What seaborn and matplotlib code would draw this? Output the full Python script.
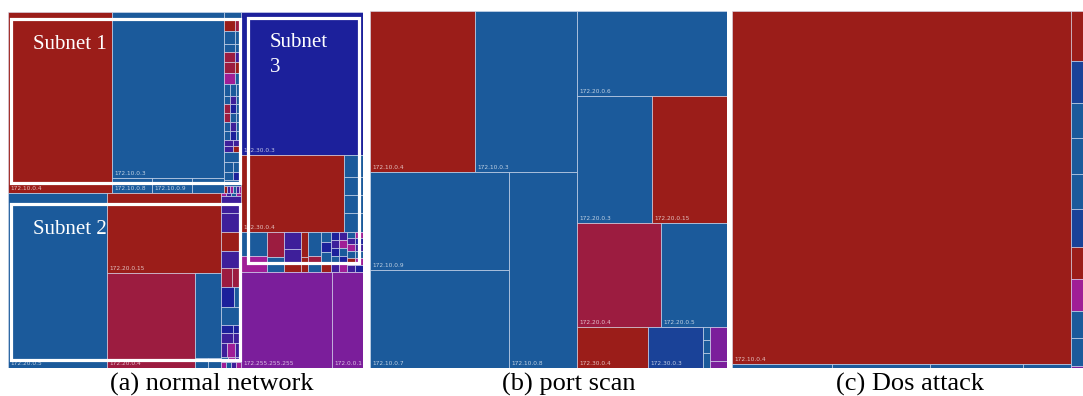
import matplotlib
matplotlib.use("Agg")
import matplotlib.pyplot as plt
from matplotlib.patches import Rectangle
import seaborn as sns

# ---------------------------------------------------------------------------
# Traffic volume per host (arbitrary units) and colour class of each host.
# Colour classes: r=red, b=blue, i=indigo, n=navy, c=crimson, p=purple,
#                 m=magenta, v=violet
# ---------------------------------------------------------------------------

# (a) normal network
A_HOSTS = ["172.10.0.4", "172.10.0.3", "172.10.0.8", "172.10.0.9",
           "172.20.0.5", "172.20.0.15", "172.20.0.4",
           "172.30.0.3", "172.30.0.4",
           "172.255.255.255", "172.0.0.1"]
A_TRAFFIC = [18824, 18592, 600, 600,
             17325, 9120, 8360,
             17446, 7931,
             8736, 2976]
A_CLASS = ["r", "b", "b", "b",
           "b", "r", "c",
           "i", "r",
           "p", "p"]

# unnamed hosts of subnet 172.10 (rows of small hosts)
A_S10_MINOR = [480]
A_S10_TAIL = [[102], [143, 78], [143, 78], [88, 48], [110, 60], [121, 66],
              [121, 66], [72, 72, 60], [48, 48, 40], [54, 54, 45],
              [54, 54, 45], [54, 54, 45], [54, 54, 45], [54, 48], [54, 48],
              [170], [90, 80], [72, 64], [102], [21, 21, 21, 21, 21, 14]]
A_S10_TAIL_CLASS = ["b", "rc", "bb", "bb", "cv", "cr", "mb", "bbb", "bvb",
                    "cib", "cbb", "bvb", "bib", "vv", "vr", "b", "bb", "bi",
                    "b", "rvmbvm"]

# unnamed hosts of subnet 172.20
A_S20_MINOR = [2210]
A_S20_MINOR_ROW = [130, 130]
A_S20_TAIL = [[15, 15, 15, 15], [140], [200], [380], [380], [340],
              [209, 171], [260, 140], [360], [96, 64], [120, 80],
              [84, 112, 84], [35, 35, 30], [30, 30, 30, 30]]
A_S20_TAIL_CLASS = ["mvbm", "v", "v", "v", "r", "v", "cc", "ib", "b", "ii",
                    "vv", "vmv", "bmv", "mbvm"]

# unnamed hosts of subnet 172.30
A_S30_SIDE = [418, 342, 342, 361]
A_S30_SIDE_CLASS = "bbbb"
A_S30_TAIL = [[624, 416], [425, 255], [289, 221, 170], [175, 105],
              [312, 104, 104], [100, 100, 100, 100], [64, 64, 64, 64, 64],
              [64, 64, 64, 64, 64], [48, 48, 56, 56, 56, 56],
              [48, 48, 56, 56, 56, 56]]
A_S30_TAIL_CLASS = ["bm", "cb", "vvr", "rr", "bcb", "bibr", "ivibv",
                    "vmbim", "bvmbrv", "mivbmi"]

# (b) port scan
B_HOSTS = ["172.10.0.4", "172.10.0.3", "172.10.0.9", "172.10.0.7",
           "172.10.0.8", "172.20.0.6", "172.20.0.3", "172.20.0.15",
           "172.20.0.4", "172.20.0.5", "172.30.0.4", "172.30.0.3"]
B_TRAFFIC = [16905, 16422, 13622, 13622,
             13328, 12750, 9525, 9525,
             8736, 6864, 2911, 2255]
B_CLASS = ["r", "b", "b", "b",
           "b", "b", "b", "r",
           "c", "b", "r", "n"]
B_S30_MINOR = [91, 91, 105]
B_S30_MINOR_CLASS = "bbb"
B_S30_OTHER = [578, 119]
B_S30_OTHER_CLASS = "pp"

# (c) DoS attack
C_HOSTS = ["172.10.0.4"]
C_TRAFFIC = [119667]
C_CLASS = ["r"]
C_S10_MINOR = [400, 392, 372, 192]
C_S10_MINOR_CLASS = "bbbb"
C_OTHER = [900, 756, 630, 648, 630, 684, 576, 576, 486, 504, 36]
C_OTHER_CLASS = "rnbbbnrmbbp"

CAPTIONS = ["(a) normal network", "(b) port scan", "(c) Dos attack"]

PALETTE = dict(zip("rbincpmv", sns.color_palette(
    ["#9b1d19", "#1b5a9b", "#1c209b", "#1a4298",
     "#9c1c40", "#7b1e9b", "#a01e96", "#3e1f9a"])))


# ---------------------------------------------------------------------------
# Tiny treemap engine: groups are sliced horizontally ("h") or vertically
# ("v") in proportion to the summed traffic of their children.
# ---------------------------------------------------------------------------
class Leaf:
    def __init__(self, label, value, cls):
        self.label, self.value, self.cls = label, value, cls

    def total(self):
        return self.value


class Group:
    def __init__(self, orient, children, name=None):
        self.orient, self.children, self.name = orient, children, name

    def total(self):
        return sum(c.total() for c in self.children)


def layout(node, x0, y0, x1, y1, cells, groups):
    if isinstance(node, Leaf):
        cells.append((x0, y0, x1, y1, node))
        return
    if node.name:
        groups[node.name] = (x0, y0, x1, y1)
    tot = node.total()
    pos = x0 if node.orient == "h" else y0
    for child in node.children:
        frac = child.total() / tot
        if node.orient == "h":
            w = (x1 - x0) * frac
            layout(child, pos, y0, pos + w, y1, cells, groups)
            pos += w
        else:
            h = (y1 - y0) * frac
            layout(child, x0, pos, x1, pos + h, cells, groups)
            pos += h


def hosts(names, values, classes):
    return {n: Leaf(n, v, c) for n, v, c in zip(names, values, classes)}


def anon(values, classes):
    return [Leaf(None, v, c) for v, c in zip(values, classes)]


def rows(values, classes):
    return Group("v", [Group("h", anon(v, c)) for v, c in zip(values, classes)])


def cols(values, classes):
    return Group("h", [Group("v", anon(v, c)) for v, c in zip(values, classes)])


# ---- tree for (a)
ha = hosts(A_HOSTS, A_TRAFFIC, A_CLASS)
a_s10 = Group("h", [
    ha["172.10.0.4"],
    Group("v", [ha["172.10.0.3"],
                Group("h", [ha["172.10.0.8"], ha["172.10.0.9"]]
                      + anon(A_S10_MINOR, "b"))]),
    rows(A_S10_TAIL, A_S10_TAIL_CLASS),
], name="s10")
a_s20 = Group("h", [
    ha["172.20.0.5"],
    Group("v", [ha["172.20.0.15"],
                Group("h", [ha["172.20.0.4"],
                            Group("v", anon(A_S20_MINOR, "b")
                                  + [Group("h", anon(A_S20_MINOR_ROW, "bb"))])])]),
    rows(A_S20_TAIL, A_S20_TAIL_CLASS),
], name="s20")
a_s30 = Group("v", [
    ha["172.30.0.3"],
    Group("h", [ha["172.30.0.4"], Group("v", anon(A_S30_SIDE, A_S30_SIDE_CLASS))]),
    cols(A_S30_TAIL, A_S30_TAIL_CLASS),
], name="s30")
tree_a = Group("h", [
    Group("v", [a_s10, a_s20]),
    Group("v", [a_s30, Group("h", [ha["172.255.255.255"], ha["172.0.0.1"]])]),
])

# ---- tree for (b)
hb = hosts(B_HOSTS, B_TRAFFIC, B_CLASS)
tree_b = Group("h", [
    Group("v", [
        Group("h", [hb["172.10.0.4"], hb["172.10.0.3"]]),
        Group("h", [Group("v", [hb["172.10.0.9"], hb["172.10.0.7"]]),
                    hb["172.10.0.8"]]),
    ]),
    Group("v", [
        Group("v", [hb["172.20.0.6"],
                    Group("h", [hb["172.20.0.3"], hb["172.20.0.15"]]),
                    Group("h", [hb["172.20.0.4"], hb["172.20.0.5"]])]),
        Group("h", [hb["172.30.0.4"], hb["172.30.0.3"],
                    Group("v", anon(B_S30_MINOR, B_S30_MINOR_CLASS)),
                    Group("v", anon(B_S30_OTHER, B_S30_OTHER_CLASS))]),
    ]),
])

# ---- tree for (c)
hc = hosts(C_HOSTS, C_TRAFFIC, C_CLASS)
tree_c = Group("h", [
    Group("v", [hc["172.10.0.4"],
                Group("h", anon(C_S10_MINOR, C_S10_MINOR_CLASS))]),
    Group("v", anon(C_OTHER, C_OTHER_CLASS)),
])

# ---------------------------------------------------------------------------
sns.set_theme(style="white")
plt.rcParams["font.family"] = ["DejaVu Sans"]

W, H = 1083, 396
fig = plt.figure(figsize=(W / 100, H / 100), dpi=100)
fig.patch.set_facecolor("white")

# panel frames in pixels: left, top, width, height
frames = [(8, 12, 355, 356), (370, 11, 357, 357), (732, 11, 357, 357)]
trees = [tree_a, tree_b, tree_c]
caption_x = [212, 569, 910]

edge = (0.86, 0.89, 0.96, 0.55)
axes = []
for (left, top, pw, ph), tree in zip(frames, trees):
    ax = fig.add_axes([left / W, 1 - (top + ph) / H, pw / W, ph / H])
    ax.set_xlim(0, pw)
    ax.set_ylim(ph, 0)
    ax.axis("off")
    cells, groups = [], {}
    layout(tree, 0, 0, pw, ph, cells, groups)
    for x0, y0, x1, y1, leaf in cells:
        ax.add_patch(Rectangle((x0, y0), x1 - x0, y1 - y0,
                               facecolor=PALETTE[leaf.cls], edgecolor=edge,
                               linewidth=0.7, zorder=1))
        if leaf.label:
            ax.text(x0 + 2.5, y1 - 2.0, leaf.label, fontsize=4.2,
                    color=(1, 1, 1, 0.72), ha="left", va="bottom",
                    family="DejaVu Sans", zorder=2, clip_on=True)
    axes.append((ax, groups))

# subnet highlight boxes on the normal-network panel
ax_a, groups_a = axes[0]
boxes = [("s10", (3, 7, 1, 10), "Subnet 1", (22, 16)),
         ("s20", (3, 11, 1, 8), "Subnet 2", (22, 16)),
         ("s30", (7, 6, 4, 9), "Subnet\n3", (22, 15))]
for key, (il, it, ir, ib), text, (tx, ty) in boxes:
    x0, y0, x1, y1 = groups_a[key]
    bx0, by0, bx1, by1 = x0 + il, y0 + it, x1 - ir, y1 - ib
    ax_a.add_patch(Rectangle((bx0, by0), bx1 - bx0, by1 - by0, fill=False,
                             edgecolor="white", linewidth=2.3, zorder=3))
    ax_a.text(bx0 + tx, by0 + ty, text, fontsize=15, color="white",
              family=["Liberation Serif", "DejaVu Serif"], ha="left",
              va="top", linespacing=1.45, zorder=4)

for cx, cap in zip(caption_x, CAPTIONS):
    fig.text(cx / W, 1 - 384 / H, cap, fontsize=19, color="black",
             family=["Liberation Serif", "DejaVu Serif"], ha="center",
             va="center")

fig.savefig("out.png", dpi=100, facecolor="white")
